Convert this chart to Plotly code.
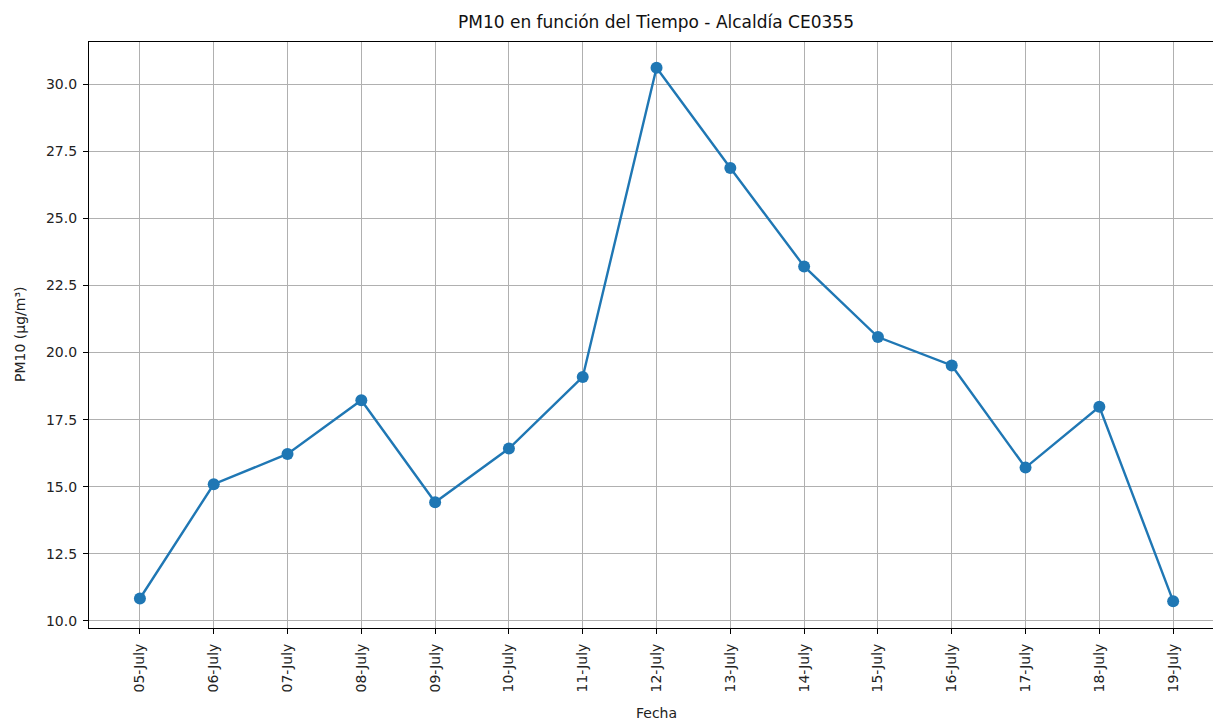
import plotly.graph_objects as go

fechas = ["05-July", "06-July", "07-July", "08-July", "09-July", "10-July", "11-July",
          "12-July", "13-July", "14-July", "15-July", "16-July", "17-July", "18-July", "19-July"]
pm10 = [10.83, 15.09, 16.22, 18.22, 14.42, 16.42, 19.09,
        30.62, 26.88, 23.21, 20.58, 19.52, 15.71, 17.98, 10.73]
y_ticks = [10.0, 12.5, 15.0, 17.5, 20.0, 22.5, 25.0, 27.5, 30.0]

W, H = 1213, 722
L, T, B = 89, 42, 628


def px_x(px):
    return (px - L) / (W - L)


def px_y(py):
    return (B - py) / (B - T)


fig = go.Figure()
fig.add_trace(go.Scatter(
    x=list(range(len(fechas))), y=pm10, mode="lines+markers",
    line=dict(color="#1f77b4", width=2.4),
    marker=dict(color="#1f77b4", size=12),
    showlegend=False,
))

font = dict(family="DejaVu Sans", size=14, color="#222222")
fig.update_layout(
    width=W, height=H,
    margin=dict(l=L, r=0, t=T, b=H - B),
    paper_bgcolor="white", plot_bgcolor="white",
    font=font,
    title=dict(text="PM10 en función del Tiempo - Alcaldía CE0355",
               x=656 / W, xanchor="center", xref="container",
               y=1 - 22 / H, yanchor="middle", yref="container",
               font=dict(family="DejaVu Sans", size=17, color="#111111")),
    annotations=[
        dict(text="Fecha", x=px_x(656), xref="paper", y=px_y(713), yref="paper",
             xanchor="center", yanchor="middle", showarrow=False,
             font=dict(family="DejaVu Sans", size=14, color="#222222")),
        dict(text="PM10 (µg/m³)", x=px_x(20), xref="paper", y=px_y(335), yref="paper",
             xanchor="center", yanchor="middle", showarrow=False, textangle=-90,
             font=dict(family="DejaVu Sans", size=14, color="#222222")),
    ],
)
fig.update_xaxes(
    range=[-0.69, 14.54],
    tickmode="array", tickvals=list(range(len(fechas))), ticktext=fechas,
    tickangle=-90,
    showgrid=True, gridcolor="#b0b0b0", gridwidth=1.1,
    showline=True, linecolor="black", linewidth=1.2, mirror=True,
    ticks="outside", ticklen=5, tickcolor="black", tickwidth=1.1,
    zeroline=False, ticklabelstandoff=4,
)
fig.update_yaxes(
    range=[9.73, 31.58],
    tickmode="array", tickvals=y_ticks, ticktext=[f"{v:.1f}" for v in y_ticks],
    showgrid=True, gridcolor="#b0b0b0", gridwidth=1.1,
    showline=True, linecolor="black", linewidth=1.2, mirror=False,
    ticks="outside", ticklen=5, tickcolor="black", tickwidth=1.1,
    zeroline=False, ticklabelstandoff=3,
)

fig.write_html(
    "out.html",
    config={"displayModeBar": False},
    post_script="document.body.style.margin='0';document.body.style.overflow='hidden';",
)
